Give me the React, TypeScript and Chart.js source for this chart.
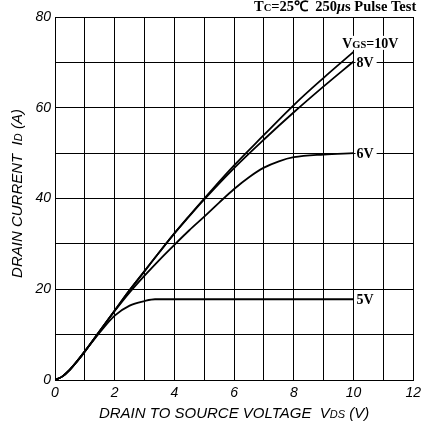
import React, { useEffect, useRef } from "react";
import { Chart, registerables } from "chart.js";
Chart.register(...registerables);

// VDS (V) / ID (A) readings for each gate voltage
const vds10 = [0, 0.25, 0.5, 0.75, 1, 1.5, 2, 2.5, 3, 3.5, 4, 4.5, 5, 6, 7, 8, 9, 10];
const id10 = [0, 0.8, 2.3, 4.2, 6.3, 10.8, 15.3, 19.8, 24, 28.2, 32.3, 36.2, 40, 47.3, 54.0, 60.6, 66.6, 72.3];
const vds8 = [0, 0.25, 0.5, 0.75, 1, 1.5, 2, 2.5, 3, 3.5, 4, 4.5, 5, 6, 7, 8, 9, 10];
const id8 = [0, 0.8, 2.3, 4.2, 6.3, 10.8, 15.3, 19.8, 24, 28.2, 32.3, 36.1, 39.8, 46.7, 53.0, 59.0, 64.7, 70.2];
const vds6 = [0, 0.25, 0.5, 0.75, 1, 1.5, 2, 2.5, 3, 3.5, 4, 4.5, 5, 5.5, 6, 6.5, 7, 7.5, 8, 9, 10];
const id6 = [0, 0.8, 2.3, 4.2, 6.3, 10.8, 15.2, 19.3, 23, 26.5, 29.8, 33, 36, 39.1, 42.1, 44.7, 46.8, 48.2, 49.1, 49.7, 50];
const vds5 = [0, 0.25, 0.5, 0.75, 1, 1.5, 2, 2.5, 3, 3.35, 4, 6, 8, 10];
const id5 = [0, 0.8, 2.3, 4.2, 6.3, 10.5, 14.2, 16.4, 17.4, 17.8, 17.8, 17.8, 17.8, 17.8];

// curve labels
const curveLabelText = ["10V", "8V", "6V", "5V"];
const curveLabelX = [9.52, 10, 10, 10];
const curveLabelY = [74.3, 70, 50, 17.8];

const xMin = 0, xMax = 12, xStep = 1, xLabelStep = 2;
const yMin = 0, yMax = 80, yStep = 10, yLabelStep = 20;

const SANS = "'Liberation Sans', Arial, sans-serif";
const SERIF = "'Liberation Serif', 'Times New Roman', serif";

type Seg = [string, string];

function richWidth(ctx: CanvasRenderingContext2D, segs: Seg[]) {
  let w = 0;
  for (const [t, f] of segs) { ctx.font = f; w += ctx.measureText(t).width; }
  return w;
}
function drawRich(ctx: CanvasRenderingContext2D, segs: Seg[], x: number, y: number, align: "left" | "center" | "right") {
  const w = richWidth(ctx, segs);
  let cx = align === "left" ? x : align === "center" ? x - w / 2 : x - w;
  ctx.textAlign = "left";
  ctx.textBaseline = "alphabetic";
  for (const [t, f] of segs) {
    ctx.font = f;
    ctx.fillText(t, cx, y);
    cx += ctx.measureText(t).width;
  }
  return w;
}

const pts = (xs: number[], ys: number[]) => xs.map((x, i) => ({ x, y: ys[i] }));

const annotPlugin = {
  id: "annot",
  afterDraw(chart: any) {
    const ctx: CanvasRenderingContext2D = chart.ctx;
    const xs = chart.scales.x, ys = chart.scales.y;
    const area = chart.chartArea;
    ctx.save();
    ctx.fillStyle = "#000";
    // title
    const bold = `bold 14.5px ${SERIF}`;
    drawRich(ctx, [["T", bold], ["C", `bold 10.5px ${SERIF}`], ["=25℃  250", bold], ["μ", `italic bold 14.5px ${SERIF}`], ["s Pulse Test", bold]], area.right + 3, 11, "right");
    // curve labels
    const lf = `bold 14px ${SERIF}`;
    const lfs = `bold 10.5px ${SERIF}`;
    curveLabelText.forEach((t, i) => {
      const segs: Seg[] = i === 0 ? [["V", lf], ["GS", lfs], ["=" + t, lf]] : [[t, lf]];
      const px = xs.getPixelForValue(curveLabelX[i]) + 3;
      const py = ys.getPixelForValue(curveLabelY[i]);
      const w = richWidth(ctx, segs);
      ctx.fillStyle = "#fff";
      ctx.fillRect(px - 1, py - 7, w + 4, 14);
      ctx.fillStyle = "#000";
      drawRich(ctx, segs, px, py + 5, "left");
    });
    // axis titles
    const tf = `italic 15px ${SANS}`;
    const tfs = `italic 11px ${SANS}`;
    drawRich(ctx, [["DRAIN TO SOURCE VOLTAGE  V", tf], ["DS", tfs], [" (V)", tf]], (area.left + area.right) / 2, 418, "center");
    ctx.save();
    ctx.translate(21.5, (area.top + area.bottom) / 2 - 5);
    ctx.rotate(-Math.PI / 2);
    drawRich(ctx, [["DRAIN CURRENT  I", tf], ["D", tfs], [" (A)", tf]], 0, 0, "center");
    ctx.restore();
    ctx.restore();
  },
};

export default function App() {
  const ref = useRef<HTMLCanvasElement>(null);
  useEffect(() => {
    document.body.style.margin = "0";
    const line = (data: any, monotone: boolean) => ({
      data,
      borderColor: "#000",
      borderWidth: 1.8,
      pointRadius: 0,
      fill: false,
      tension: 0.4,
      cubicInterpolationMode: (monotone ? "monotone" : "default") as any,
    });
    const chart = new Chart(ref.current!, {
      type: "line",
      data: {
        datasets: [
          line(pts(vds10, id10), false),
          line(pts(vds8, id8), false),
          line(pts(vds6, id6), true),
          line(pts(vds5, id5), true),
        ],
      },
      options: {
        responsive: false,
        animation: false,
        devicePixelRatio: 1,
        layout: { padding: { top: 17, right: 8, left: 0, bottom: 0 } },
        plugins: { legend: { display: false }, tooltip: { enabled: false }, title: { display: false } },
        scales: {
          x: {
            type: "linear",
            min: xMin, max: xMax,
            afterFit: (s: any) => { s.height = 48; },
            grid: { color: "#000", lineWidth: 1, drawTicks: false },
            border: { color: "#000", width: 1 },
            ticks: {
              stepSize: xStep, autoSkip: false, maxRotation: 0, padding: 5, color: "#000",
              font: { family: SANS, size: 14, style: "italic" },
              callback: (v: any) => (Number(v) % xLabelStep === 0 ? String(v) : ""),
            },
          },
          y: {
            type: "linear",
            min: yMin, max: yMax,
            afterFit: (s: any) => { s.width = 55; },
            grid: { color: "#000", lineWidth: 1, drawTicks: false },
            border: { color: "#000", width: 1 },
            ticks: {
              stepSize: yStep, autoSkip: false, padding: 4, color: "#000",
              font: { family: SANS, size: 14, style: "italic" },
              callback: (v: any) => (Number(v) % yLabelStep === 0 ? String(v) : ""),
            },
          },
        },
      },
      plugins: [annotPlugin],
    });
    return () => chart.destroy();
  }, []);
  return <canvas ref={ref} width={426} height={428} style={{ display: "block" }} />;
}
